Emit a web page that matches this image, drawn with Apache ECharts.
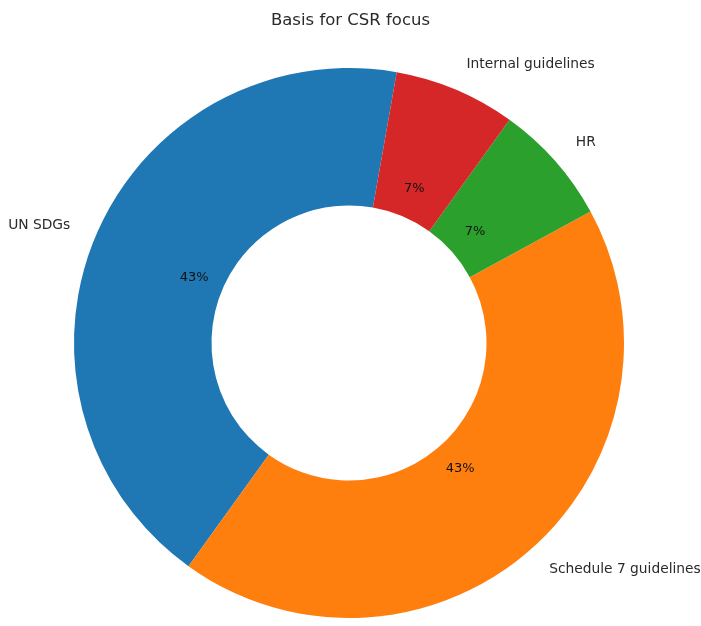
<!DOCTYPE html>
<html>
<head>
<meta charset="utf-8">
<script src="https://cdn.jsdelivr.net/npm/echarts@6/dist/echarts.min.js"></script>
<style>
  html, body { margin: 0; padding: 0; background: #fff; }
  #chart { width: 701px; height: 626px; }
</style>
</head>
<body>
<div id="chart"></div>
<script>
// Basis for CSR focus: counts per category
const categories = ['UN SDGs', 'Schedule 7 guidelines', 'HR', 'Internal guidelines'];
const counts = [6, 6, 1, 1];
const colors = ['#1f77b4', '#ff7f0e', '#2ca02c', '#d62728'];

const FONT = 'DejaVu Sans';
const CX = 349, CY = 343, R = 275;

const pieData = categories.map((name, i) => ({ name, value: counts[i] }));

const chart = echarts.init(document.getElementById('chart'));
chart.setOption({
  animation: false,
  backgroundColor: '#ffffff',
  color: colors,
  title: {
    text: 'Basis for CSR focus',
    left: 'center',
    top: 7,
    textStyle: { fontFamily: FONT, fontSize: 16.5, fontWeight: 'normal', color: '#2a2a2a' }
  },
  series: [
    {
      // donut ring with category names outside
      type: 'pie',
      center: [CX, CY],
      radius: [R * 0.5, R],
      startAngle: 80,
      clockwise: false,
      avoidLabelOverlap: false,
      silent: true,
      data: pieData,
      label: {
        show: true,
        position: 'outside',
        formatter: '{b}',
        fontFamily: FONT,
        fontSize: 13.8,
        color: '#2a2a2a',
        distanceToLabelLine: 0
      },
      labelLine: { show: false, length: R * 0.1, length2: 0 },
      emphasis: { disabled: true }
    },
    {
      // transparent layer that places percentage labels at 0.6 R
      type: 'pie',
      center: [CX, CY],
      radius: [R * 0.2, R],
      startAngle: 80,
      clockwise: false,
      avoidLabelOverlap: false,
      silent: true,
      data: pieData,
      itemStyle: { color: 'rgba(0,0,0,0)' },
      label: {
        show: true,
        position: 'inside',
        formatter: p => Math.round(p.percent) + '%',
        fontFamily: FONT,
        fontSize: 13,
        color: '#111'
      },
      labelLine: { show: false },
      emphasis: { disabled: true }
    }
  ]
});
</script>
</body>
</html>
